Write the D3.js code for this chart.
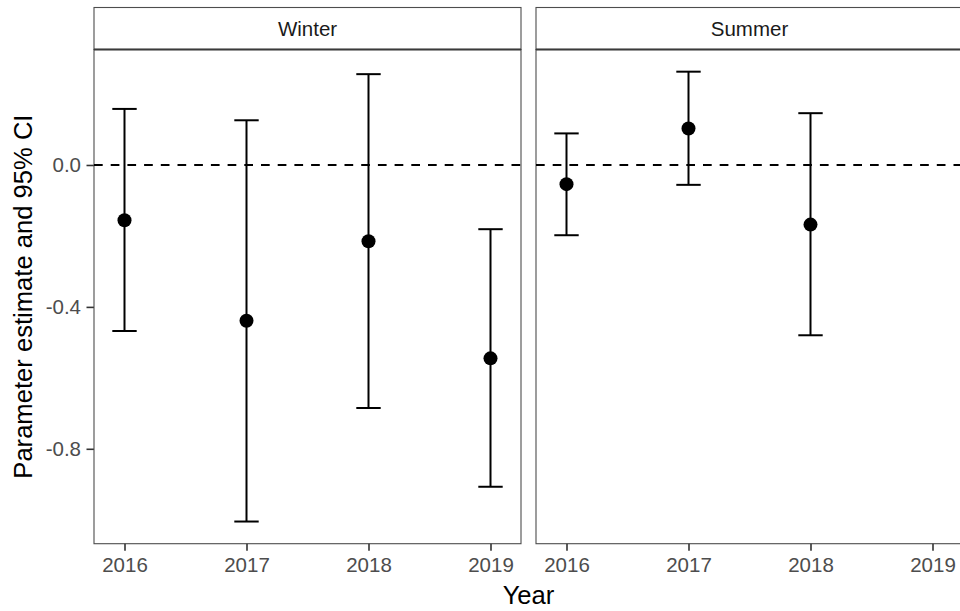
<!DOCTYPE html>
<html>
<head>
<meta charset="utf-8">
<script src="https://cdn.jsdelivr.net/npm/d3@7"></script>
<style>
  html, body { margin: 0; padding: 0; background: #fff; }
  svg { display: block; }
  text { font-family: "Liberation Sans", Arial, Helvetica, sans-serif; }
</style>
</head>
<body>
<svg id="chart" width="960" height="611"></svg>
<script>
// Yearly parameter estimates with 95% confidence intervals, by season
const years = [2016, 2017, 2018, 2019];
const seasons = ["Winter", "Summer"];

const winterEst = [-0.156, -0.439, -0.215, -0.545];
const winterLo  = [-0.468, -1.005, -0.685, -0.907];
const winterHi  = [ 0.158,  0.126,  0.256, -0.181];

const summerEst = [-0.054,  0.103, -0.168, null];
const summerLo  = [-0.198, -0.056, -0.480, null];
const summerHi  = [ 0.089,  0.263,  0.146, null];

const yTicks = [0.0, -0.4, -0.8];

const seriesBySeason = {
  Winter: { est: winterEst, lo: winterLo, hi: winterHi },
  Summer: { est: summerEst, lo: summerLo, hi: summerHi }
};

const svg = d3.select("#chart");

// panel geometry
const panelTop = 49.5, panelBottom = 543.7, stripTop = 7.5;
const panelLefts = [94, 536];
const panelWidth = 427;
const capWidth = 0.2; // error bar cap width in years

const y = d3.scaleLinear().domain([-1.0675, 0.3255]).range([panelBottom, panelTop]);

const fmt = d => (Math.abs(d) < 1e-9 ? 0 : d).toFixed(1);

// y axis (left of the first panel)
const yAxis = svg.append("g")
  .attr("transform", `translate(${panelLefts[0]},0)`)
  .call(d3.axisLeft(y).tickValues(yTicks).tickFormat(fmt).tickSize(7.5).tickPadding(5.5));
yAxis.select(".domain").remove();
yAxis.selectAll(".tick line").attr("stroke", "#333").attr("stroke-width", 1.6);
yAxis.selectAll(".tick text").attr("fill", "#4d4d4d").style("font-size", "20.5px");

seasons.forEach((season, i) => {
  const x0 = panelLefts[i];
  const x = d3.scaleLinear().domain([2015.75, 2019.25]).range([x0, x0 + panelWidth]);
  const s = seriesBySeason[season];
  const g = svg.append("g");

  // strip
  g.append("rect")
    .attr("x", x0).attr("y", stripTop)
    .attr("width", panelWidth).attr("height", panelTop - stripTop)
    .attr("fill", "#fff").attr("stroke", "#4d4d4d").attr("stroke-width", 1.1);
  g.append("text")
    .attr("x", x0 + panelWidth / 2).attr("y", 36)
    .attr("text-anchor", "middle")
    .attr("fill", "#1a1a1a")
    .style("font-size", "20.5px")
    .text(season);

  // panel
  g.append("rect")
    .attr("x", x0).attr("y", panelTop)
    .attr("width", panelWidth).attr("height", panelBottom - panelTop)
    .attr("fill", "#fff").attr("stroke", "#4d4d4d").attr("stroke-width", 1.1);
  g.append("line")
    .attr("x1", x0).attr("x2", x0 + panelWidth)
    .attr("y1", panelTop).attr("y2", panelTop)
    .attr("stroke", "#3a3a3a").attr("stroke-width", 2.2);

  // zero reference line
  g.append("line")
    .attr("x1", x0).attr("x2", x0 + panelWidth)
    .attr("y1", y(0)).attr("y2", y(0))
    .attr("stroke", "#000").attr("stroke-width", 2)
    .attr("stroke-dasharray", "8.7,8");

  const rows = years.map((yr, j) => ({ yr, est: s.est[j], lo: s.lo[j], hi: s.hi[j] }))
    .filter(r => r.est !== null);

  // error bars
  const eb = g.selectAll(".eb").data(rows).enter().append("g");
  eb.append("line")
    .attr("x1", d => x(d.yr)).attr("x2", d => x(d.yr))
    .attr("y1", d => y(d.lo)).attr("y2", d => y(d.hi))
    .attr("stroke", "#000").attr("stroke-width", 2);
  eb.append("line")
    .attr("x1", d => x(d.yr - capWidth / 2)).attr("x2", d => x(d.yr + capWidth / 2))
    .attr("y1", d => y(d.hi)).attr("y2", d => y(d.hi))
    .attr("stroke", "#000").attr("stroke-width", 2);
  eb.append("line")
    .attr("x1", d => x(d.yr - capWidth / 2)).attr("x2", d => x(d.yr + capWidth / 2))
    .attr("y1", d => y(d.lo)).attr("y2", d => y(d.lo))
    .attr("stroke", "#000").attr("stroke-width", 2);

  // point estimates
  g.selectAll(".pt").data(rows).enter().append("circle")
    .attr("cx", d => x(d.yr)).attr("cy", d => y(d.est))
    .attr("r", 7).attr("fill", "#000");

  // x axis
  const xAxis = svg.append("g")
    .attr("transform", `translate(0,${panelBottom})`)
    .call(d3.axisBottom(x).tickValues(years).tickFormat(d3.format("d")).tickSize(7).tickPadding(6.3));
  xAxis.select(".domain").remove();
  xAxis.selectAll(".tick line").attr("stroke", "#333").attr("stroke-width", 1.6);
  xAxis.selectAll(".tick text").attr("fill", "#4d4d4d").style("font-size", "20.5px");
});

// axis titles
svg.append("text")
  .attr("x", (panelLefts[0] + panelLefts[1] + panelWidth) / 2).attr("y", 604)
  .attr("text-anchor", "middle").attr("fill", "#000")
  .style("font-size", "25.6px")
  .text("Year");

svg.append("text")
  .attr("transform", `translate(32,${(panelTop + panelBottom) / 2}) rotate(-90)`)
  .attr("text-anchor", "middle").attr("fill", "#000")
  .style("font-size", "25.6px")
  .text("Parameter estimate and 95% CI");
</script>
</body>
</html>
